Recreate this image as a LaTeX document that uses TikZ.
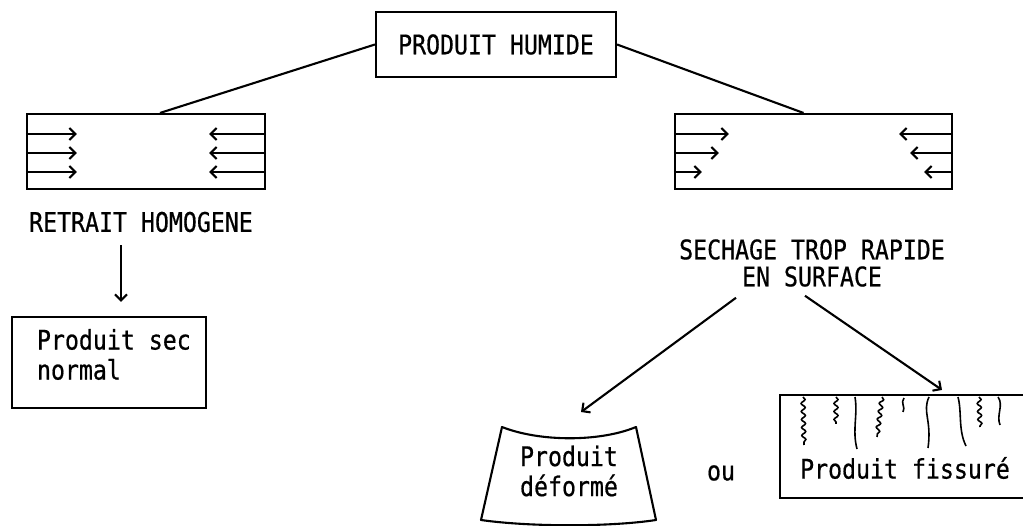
\documentclass[tikz,border=0pt]{standalone}
\usepackage{fontspec}
\newfontfamily\tw[FakeStretch=0.86,FakeBold=0.6]{DejaVu Sans Mono}
\usetikzlibrary{arrows.meta,calc,decorations.pathmorphing}
\begin{document}
\begin{tikzpicture}[x=1pt,y=-1pt,line width=2.1pt,
  txt/.style={font=\tw\fontsize{27}{30}\selectfont,inner sep=0pt},
  box/.style={draw,line width=2.1pt,inner sep=0pt},
  arr/.style={-{Straight Barb[length=6pt,width=12pt]}},
  crack/.style={line width=1.6pt,decorate,decoration={snake,amplitude=2pt,segment length=8pt}},
  crackc/.style={line width=1.6pt}]
\useasboundingbox (0,0) rectangle (1023,526);
\fill[white] (0,0) rectangle (1023,526);
\begin{scope}
\clip (0,0) rectangle (1023,526);
% top
\node[box,txt,minimum width=240pt,minimum height=65pt] (top) at (496,44.5) {PRODUIT HUMIDE};
\node[box,minimum width=238pt,minimum height=75pt] (L) at (146,151.5) {};
\node[box,minimum width=277pt,minimum height=75pt] (R) at (813.5,151.5) {};
\draw (top.west) -- ($(L.north)+(14,0)$);
\draw (top.east) -- ($(R.north)+(-10,0)$);
\foreach \dy in {-17.5,1.5,20.5} {
  \draw[arr] ($(L.west)+(0,\dy)$) -- ++(51,0);
  \draw[arr] ($(L.east)+(0,\dy)$) -- ++(-57,0);
}
\foreach \dy/\a/\b in {-17.5/55/54,1.5/45/43,20.5/28/29} {
  \draw[arr] ($(R.west)+(0,\dy)$) -- ++(\a,0);
  \draw[arr] ($(R.east)+(0,\dy)$) -- ++(-\b,0);
}
% left branch
\node[txt] (rh) at (141,222) {RETRAIT HOMOGENE};
\node[box,minimum width=194pt,minimum height=91pt] (ps) at (109,362.5) {};
\node[txt,anchor=west,align=left,font=\tw\fontsize{27}{30}\selectfont] (pst) at ($(ps.west)+(25,-8)$) {Produit sec\\normal};
\draw[arr] ($(rh.south)+(-20,12)$) -- ($(ps.north)+(12,-14)$);
% right branch
\node[txt,align=center,font=\tw\fontsize{27}{27}\selectfont] (sech) at (812,263) {SECHAGE TROP RAPIDE\\EN SURFACE};
\coordinate (defarr) at (581,412);
\node[box,minimum width=250pt,minimum height=103pt] (fis) at (905,446.5) {};
\node[txt] (fist) at (905,468) {Produit fissuré};
\draw[arr] ($(sech.south)+(-76,10)$) -- (defarr);
\draw[arr] ($(sech.south)+(-7,8)$) -- ($(fis.north)+(37,-4)$);
% deformed product
\draw[line join=round] (502,427) .. controls (540,442) and (600,442) .. (636,427)
  -- (656,520) .. controls (610,527) and (530,527) .. (481,520) -- cycle;
\node[txt,align=center] (def) at (569,471) {Produit\\déformé};
\node[txt] (ou) at (721,473) {ou};
% cracks
\draw[crack] (803,397) -- (804,445);
\draw[crack] (836,397) -- (836,424);
\draw[crackc] (855,397) .. controls (858,415) and (852,430) .. (857,449);
\draw[crack] (882,397) -- (877,437);
\draw[crackc] (904,398) .. controls (900,403) and (906,407) .. (903,412);
\draw[crackc] (929,397) .. controls (922,412) and (932,420) .. (928,448);
\draw[crackc] (958,397) .. controls (962,412) and (958,430) .. (966,446);
\draw[crack] (979,397) -- (980,427);
\draw[crackc] (998,397) .. controls (1004,405) and (996,415) .. (1000,425);
\end{scope}
\end{tikzpicture}
\end{document}
